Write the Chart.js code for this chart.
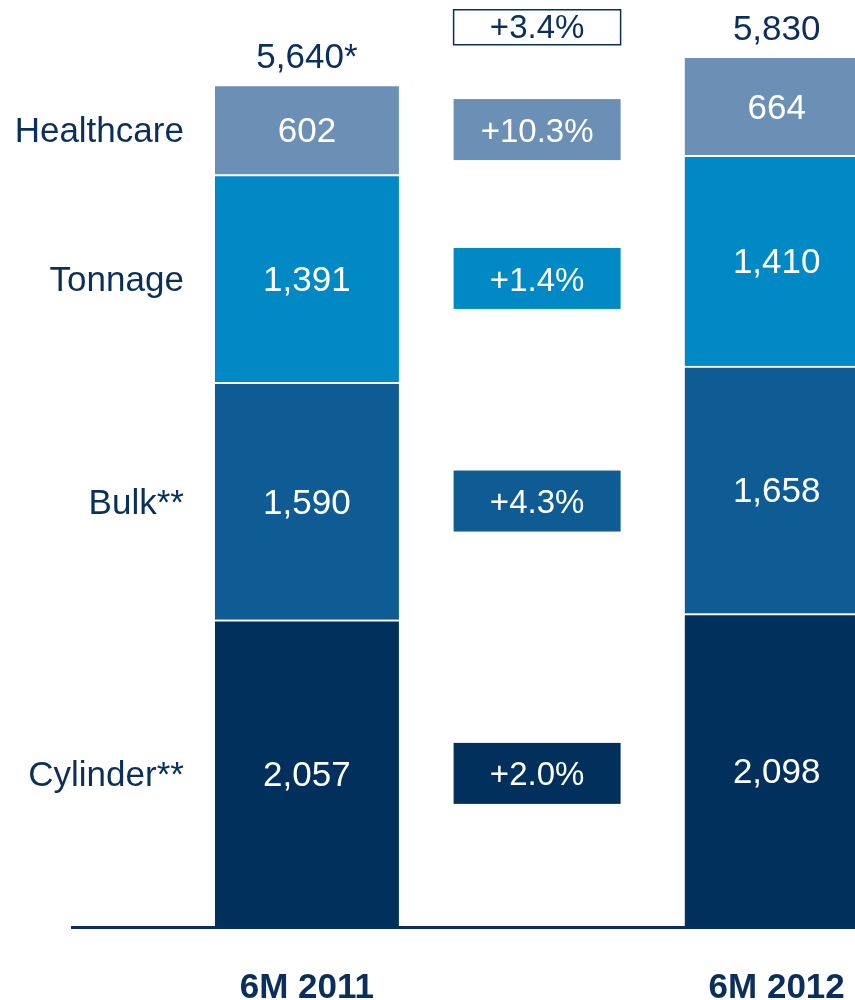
<!DOCTYPE html>
<html lang="en">
<head>
    <meta charset="UTF-8">
    <title>Sales by segment 6M 2011 vs 6M 2012</title>
    <script src="https://cdn.jsdelivr.net/npm/chart.js"></script>
    <style>
        html, body { margin: 0; padding: 0; background: #fff; }
        #wrap { width: 855px; height: 1000px; }
    </style>
</head>
<body>
    <div id="wrap"><canvas id="salesChart"></canvas></div>

    <script>
        // categories on the x axis (empty slots leave room for the change boxes)
        const periods = ['', '6M 2011', '', '', '6M 2012'];
        const segments = ['Cylinder**', 'Bulk**', 'Tonnage', 'Healthcare'];
        const values2011 = [2057, 1590, 1391, 602];
        const values2012 = [2098, 1658, 1410, 664];
        const totalSuffix = ['*', ''];
        const colors = ['#00305b', '#0e5c93', '#0089c4', '#6b8fb5'];

        const navy = '#0b2f5c';
        const fontName = '"Liberation Sans", Arial, sans-serif';
        const fmt = v => v.toLocaleString('en-US');
        const pct = (a, b) => '+' + ((b / a - 1) * 100).toFixed(1) + '%';
        const sum = arr => arr.reduce((s, v) => s + v, 0);

        const datasets = segments.map((name, i) => ({
            label: name,
            data: [null, values2011[i], null, null, values2012[i]],
            backgroundColor: colors[i],
            borderColor: '#ffffff',
            borderWidth: { top: 2, right: 0, bottom: 0, left: 0 },
            borderSkipped: false,
            barThickness: 184
        }));

        // labels inside the bars, totals, segment names and the change boxes
        const labelPlugin = {
            id: 'labels',
            afterDatasetsDraw(chart) {
                const c = chart.ctx;
                const x = chart.scales.x;
                c.save();
                c.textBaseline = 'middle';
                c.textAlign = 'center';
                c.font = '35px ' + fontName;

                const cols = [1, 4];
                const totals = [sum(values2011), sum(values2012)];
                const tops = [];
                segments.forEach((name, i) => {
                    const meta = chart.getDatasetMeta(i);
                    cols.forEach(col => {
                        const el = meta.data[col];
                        c.fillStyle = '#ffffff';
                        c.fillText(fmt(chart.data.datasets[i].data[col]), el.x, (el.y + el.base) / 2 + 3);
                    });
                });

                // totals above bars
                const topMeta = chart.getDatasetMeta(segments.length - 1);
                cols.forEach((col, k) => {
                    const el = topMeta.data[col];
                    tops.push(el.y);
                    c.fillStyle = navy;
                    c.fillText(fmt(totals[k]) + totalSuffix[k], el.x, el.y - 26);
                });

                // segment names left of first bar
                const first = chart.getDatasetMeta(0).data[1];
                const leftEdge = first.x - first.width / 2;
                c.textAlign = 'right';
                segments.forEach((name, i) => {
                    const el = chart.getDatasetMeta(i).data[1];
                    c.fillStyle = navy;
                    c.fillText(name, leftEdge - 31, (el.y + el.base) / 2 + 3);
                });

                // change boxes in the middle column
                const midX = x.getPixelForValue(2.47);
                const bw = 167, bh = 61;
                c.textAlign = 'center';
                c.font = '33px ' + fontName;
                segments.forEach((name, i) => {
                    const el = chart.getDatasetMeta(i).data[1];
                    const cy = (el.y + el.base) / 2;
                    c.fillStyle = colors[i];
                    c.fillRect(midX - bw / 2, cy - bh / 2, bw, bh);
                    c.fillStyle = '#ffffff';
                    c.fillText(pct(values2011[i], values2012[i]), midX, cy + 3);
                });

                // total change box
                const tcy = Math.min(...tops) - 29;
                c.fillStyle = '#ffffff';
                c.fillRect(midX - bw / 2, tcy - 17.5, bw, 35);
                c.strokeStyle = navy;
                c.lineWidth = 1.5;
                c.strokeRect(midX - bw / 2, tcy - 17.5, bw, 35);
                c.fillStyle = navy;
                c.fillText(pct(totals[0], totals[1]), midX, tcy + 2);
                c.restore();
            }
        };

        const salesChart = new Chart(document.getElementById('salesChart').getContext('2d'), {
            type: 'bar',
            data: { labels: periods, datasets: datasets },
            options: {
                responsive: true,
                maintainAspectRatio: false,
                animation: false,
                layout: { padding: { left: 72, right: 0, top: 1, bottom: 0 } },
                plugins: { legend: { display: false }, tooltip: { enabled: false } },
                scales: {
                    x: {
                        stacked: true,
                        grid: { display: false, drawTicks: false },
                        border: { display: true, color: navy, width: 3 },
                        ticks: {
                            color: navy,
                            font: { family: fontName, size: 35, weight: 'bold' },
                            padding: 40,
                            maxRotation: 0,
                            autoSkip: false
                        },
                        afterFit: scale => {
                            scale.height = 73;
                            scale.paddingLeft = 0;
                            scale.paddingRight = 0;
                        }
                    },
                    y: {
                        stacked: true,
                        display: false,
                        min: 0,
                        max: 6200
                    }
                }
            },
            plugins: [labelPlugin]
        });
    </script>
</body>
</html>
